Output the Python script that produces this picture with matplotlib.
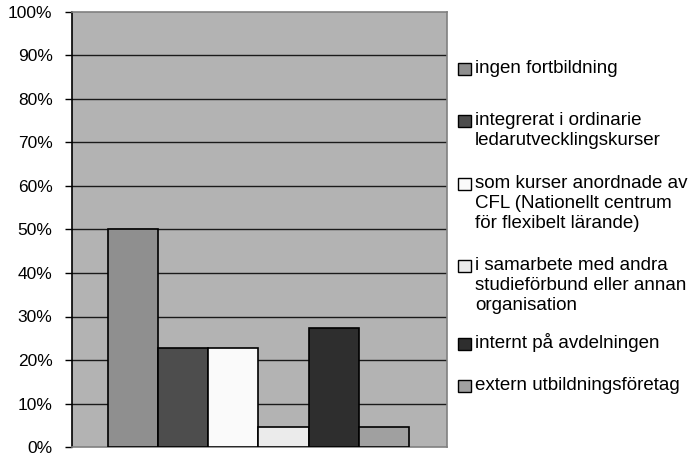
import matplotlib
matplotlib.use("Agg")
from matplotlib import pyplot as plt
from matplotlib.patches import Rectangle
from matplotlib.ticker import PercentFormatter

# data
labels = ["ingen fortbildning",
          "integrerat i ordinarie\nledarutvecklingskurser",
          "som kurser anordnade av\nCFL (Nationellt centrum\nför flexibelt lärande)",
          "i samarbete med andra\nstudieförbund eller annan\norganisation",
          "internt på avdelningen",
          "extern utbildningsföretag"]
values = [50.0, 22.7, 22.7, 4.5, 27.3, 4.5]
colors = ["#8f8f8f", "#4d4d4d", "#fafafa", "#ebebeb", "#2e2e2e", "#a0a0a0"]
yticks = list(range(0, 101, 10))

plt.rcParams['font.family'] = ['Liberation Sans', 'DejaVu Sans']

W, H = 689, 457
fig = plt.figure(figsize=(W / 100, H / 100), dpi=100)
ax = fig.add_axes([72 / W, 1 - 447 / H, (447 - 72) / W, (447 - 12) / H])
ax.set_facecolor("#b3b3b3")

for i, (v, c) in enumerate(zip(values, colors)):
    ax.bar(i, v, width=1.0, color=c, edgecolor="black", linewidth=1.2, zorder=3)

ax.set_xlim(-1.217, 6.257)
ax.set_ylim(0, 100)
ax.set_yticks(yticks)
ax.yaxis.set_major_formatter(PercentFormatter(decimals=0))
ax.set_xticks([])
for y in yticks[1:-1]:
    ax.axhline(y, color="#1a1a1a", linewidth=1.0, zorder=1)

ax.tick_params(axis="y", direction="out", length=5, width=1, labelsize=12.5,
               colors="black", pad=9)
ax.spines["left"].set_color("black")
ax.spines["left"].set_linewidth(1.2)
for s in ["top", "right", "bottom"]:
    ax.spines[s].set_color("#808080")
    ax.spines[s].set_linewidth(1.2)

# legend drawn by hand so the key sits on the first line of each entry
baselines = [73, 125, 188, 270, 348, 390]
line_step = 20
for lab, c, yb in zip(labels, colors, baselines):
    fig.add_artist(Rectangle((458 / W, 1 - (yb + 2) / H), 13 / W, 12 / H,
                             transform=fig.transFigure, facecolor=c,
                             edgecolor="black", linewidth=1.0))
    for k, line in enumerate(lab.split("\n")):
        fig.text(475 / W, 1 - (yb + k * line_step) / H, line, fontsize=13.5,
                 va="baseline", ha="left")

fig.savefig("out.png", dpi=100)
